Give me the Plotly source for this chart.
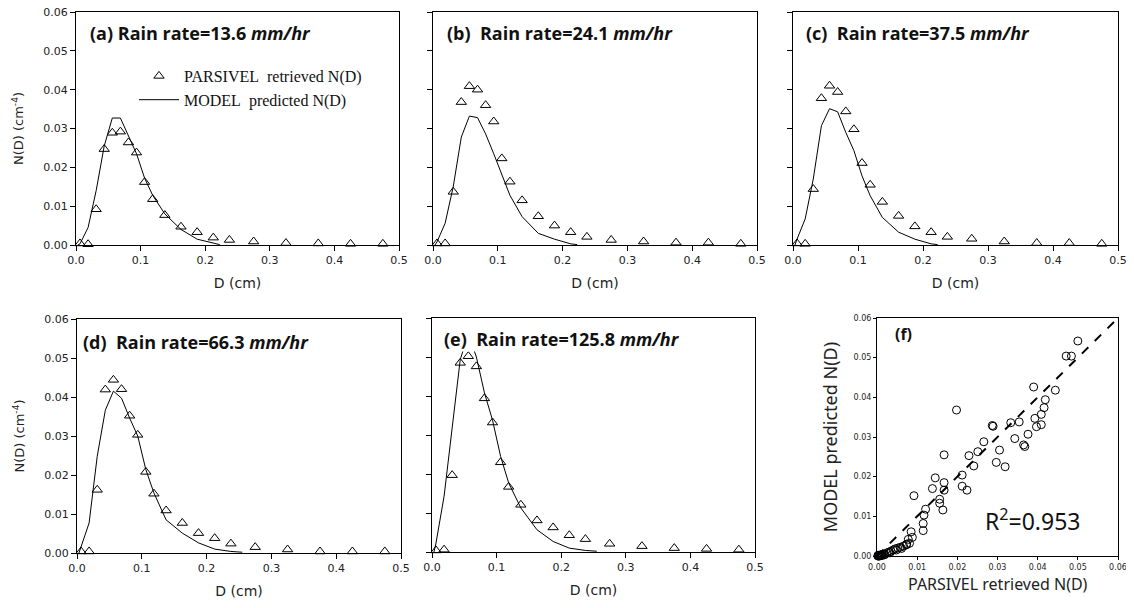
import plotly.graph_objects as go

# ---------------- DATA ----------------
D_BINS = [0.0062, 0.0187, 0.0312, 0.0437, 0.0562, 0.0687, 0.0812, 0.0937, 0.1062, 0.1187,
          0.1375, 0.1625, 0.1875, 0.2125, 0.2375, 0.275, 0.325, 0.375, 0.425, 0.475]

obs_a = [0.0004, 0.0002, 0.0092, 0.0247, 0.0289, 0.0292, 0.0264, 0.0238, 0.0162, 0.0118,
         0.0077, 0.0047, 0.0033, 0.0019, 0.0013, 0.0009, 0.0005, 0.0004, 0.0003, 0.0003]
obs_b = [0.0004, 0.0004, 0.0137, 0.0368, 0.0409, 0.0400, 0.0360, 0.0318, 0.0223, 0.0163,
         0.0115, 0.0074, 0.0050, 0.0033, 0.0021, 0.0013, 0.0009, 0.0006, 0.0006, 0.0003]
obs_c = [0.0004, 0.0003, 0.0144, 0.0378, 0.0410, 0.0394, 0.0344, 0.0298, 0.0211, 0.0155,
         0.0111, 0.0075, 0.0048, 0.0033, 0.0021, 0.0016, 0.0009, 0.0005, 0.0005, 0.0003]
obs_d = [0.0004, 0.0004, 0.0162, 0.0419, 0.0444, 0.0420, 0.0352, 0.0303, 0.0208, 0.0152,
         0.0109, 0.0077, 0.0051, 0.0038, 0.0024, 0.0015, 0.0009, 0.0004, 0.0004, 0.0004]
obs_e = [0.0004, 0.0006, 0.0197, 0.0485, 0.0502, 0.0476, 0.0394, 0.0332, 0.0230, 0.0167,
         0.0121, 0.0081, 0.0063, 0.0043, 0.0033, 0.0021, 0.0015, 0.0010, 0.0008, 0.0006]

MODEL_D_ABC = [0.003, 0.0062, 0.0187, 0.0312, 0.0437, 0.0562, 0.0687, 0.0812, 0.0937, 0.1062,
               0.1187, 0.1375, 0.1625, 0.1875, 0.2125, 0.2225]
MODEL_D_DE = [0.003, 0.0062, 0.0187, 0.0312, 0.0437, 0.0562, 0.0687, 0.0812, 0.0937, 0.1062,
              0.1187, 0.1375, 0.1625, 0.1875, 0.2125, 0.2375, 0.2550]

model_a = [0.0, 0.0003, 0.0045, 0.0140, 0.0255, 0.0327, 0.0327, 0.0282, 0.0235, 0.0172,
           0.0128, 0.0080, 0.0040, 0.0015, 0.0004, 0.0001]
model_b = [0.0, 0.0008, 0.0056, 0.0150, 0.0278, 0.0332, 0.0328, 0.0286, 0.0235, 0.0180,
           0.0128, 0.0073, 0.0030, 0.0015, 0.0003, 0.0001]
model_c = [0.0, 0.0015, 0.0067, 0.0170, 0.0307, 0.0351, 0.0343, 0.0290, 0.0243, 0.0178,
           0.0127, 0.0071, 0.0033, 0.0015, 0.0003, 0.0001]
model_d = [0.0, 0.0017, 0.0077, 0.0248, 0.0366, 0.0415, 0.0397, 0.0346, 0.0300, 0.0214,
           0.0154, 0.0085, 0.0051, 0.0026, 0.0010, 0.0004, 0.0002]
model_e = [0.0, 0.0023, 0.0143, 0.0314, 0.0493, 0.0560, 0.0500, 0.0408, 0.0338, 0.0245,
           0.0177, 0.0113, 0.0057, 0.0027, 0.0010, 0.0004, 0.0002]

rain_rates = ["13.6", "24.1", "37.5", "66.3", "125.8"]
panel_labels = ["(a)", "(b)", "(c)", "(d)", "(e)"]

# panel (f): PARSIVEL retrieved vs MODEL predicted
f_parsivel = [0.0500, 0.0471, 0.0484, 0.0390, 0.0444, 0.0419, 0.0416, 0.0409, 0.0393, 0.0409,
              0.0397, 0.0376, 0.0365, 0.0368, 0.0343, 0.0354, 0.0333, 0.0289, 0.0287, 0.0305,
              0.0297, 0.0319, 0.0266, 0.0251, 0.0229, 0.0241, 0.0212, 0.0212, 0.0224, 0.0198,
              0.0167, 0.0167, 0.0167, 0.0164, 0.0156, 0.0156, 0.0145, 0.0138, 0.0092, 0.0121,
              0.0117, 0.0115, 0.0115, 0.0085, 0.0088, 0.0081, 0.0073, 0.0061, 0.0048, 0.0032,
              0.0020, 0.0011, 0.0007, 0.0002, 0.0003, 0.0005, 0.0008, 0.0010, 0.0013, 0.0016,
              0.0025, 0.0030, 0.0035, 0.0040, 0.0045, 0.0052, 0.0058, 0.0066, 0.0074, 0.0078,
              0.0006, 0.0012, 0.0018, 0.0004, 0.0009]
f_model = [0.0542, 0.0504, 0.0504, 0.0426, 0.0418, 0.0394, 0.0374, 0.0357, 0.0347, 0.0331,
           0.0326, 0.0307, 0.0280, 0.0276, 0.0296, 0.0338, 0.0336, 0.0327, 0.0329, 0.0267,
           0.0236, 0.0225, 0.0288, 0.0263, 0.0253, 0.0227, 0.0204, 0.0176, 0.0166, 0.0368,
           0.0255, 0.0185, 0.0166, 0.0116, 0.0133, 0.0143, 0.0197, 0.0170, 0.0152, 0.0118,
           0.0103, 0.0082, 0.0064, 0.0061, 0.0047, 0.0032, 0.0028, 0.0019, 0.0015, 0.0008,
           0.0004, 0.0002, 0.0001, 0.0000, 0.0002, 0.0001, 0.0002, 0.0003, 0.0004, 0.0005,
           0.0008, 0.0010, 0.0012, 0.0015, 0.0018, 0.0020, 0.0022, 0.0025, 0.0030, 0.0042,
           0.0000, 0.0001, 0.0003, 0.0000, 0.0001]
one_to_one = [0.0, 0.06]
r2_text = "R<sup>2</sup>=0.953"
f_xtitle = "PARSIVEL retrieved N(D)"
f_ytitle = "MODEL predicted N(D)"

# ---------------- LAYOUT HELPERS ----------------
W, H = 1134, 608
OFF = 8  # default page body margin
def fx(p):
    return (p - OFF) / W
def fy(p):
    return 1 - (p - OFF) / H

# pixel boxes: (left, right, top, bottom)
boxes = [(76, 399, 12, 245), (433, 757, 12, 245), (793, 1118, 12, 245),
         (77, 401, 319, 553), (432, 755, 318, 552), (877, 1118, 318, 556)]

obs_list = [obs_a, obs_b, obs_c, obs_d, obs_e]
model_list = [model_a, model_b, model_c, model_d, model_e]
model_x_list = [MODEL_D_ABC, MODEL_D_ABC, MODEL_D_ABC, MODEL_D_DE, MODEL_D_DE]

fig = go.Figure()

for i in range(5):
    xa = "x" if i == 0 else f"x{i+1}"
    ya = "y" if i == 0 else f"y{i+1}"
    fig.add_trace(go.Scatter(
        x=D_BINS, y=obs_list[i], mode="markers", xaxis=xa, yaxis=ya,
        name="PARSIVEL\u00a0 retrieved N(D)", showlegend=(i == 0), cliponaxis=False,
        marker=dict(symbol="triangle-up-open", size=9, color="black", line=dict(width=1, color="black"))))
    fig.add_trace(go.Scatter(
        x=model_x_list[i], y=model_list[i], mode="lines", xaxis=xa, yaxis=ya,
        name="MODEL\u00a0 predicted N(D)", showlegend=(i == 0),
        line=dict(color="black", width=1)))

fig.add_trace(go.Scatter(
    x=one_to_one, y=one_to_one, mode="lines", xaxis="x6", yaxis="y6", showlegend=False,
    line=dict(color="black", width=2, dash="dash")))
fig.add_trace(go.Scatter(
    x=f_parsivel, y=f_model, mode="markers", xaxis="x6", yaxis="y6", showlegend=False,
    cliponaxis=False,
    marker=dict(symbol="circle-open", size=8, color="black", line=dict(width=1, color="black"))))

tick_font = dict(family="DejaVu Sans", size=11, color="#222")
ax_title_font = dict(family="DejaVu Sans", size=13, color="#222")
layout = dict(
    width=W, height=H, margin=dict(l=0, r=0, t=0, b=0, autoexpand=False),
    paper_bgcolor="white", plot_bgcolor="white",
    showlegend=True,
    legend=dict(x=fx(134), y=fy(59), xanchor="left", yanchor="top",
                font=dict(family="Liberation Serif, Times New Roman", size=16, color="#111"),
                bgcolor="rgba(0,0,0,0)", tracegroupgap=0, itemwidth=40),
)

for i, (l, r, t, b) in enumerate(boxes):
    xk = "xaxis" if i == 0 else f"xaxis{i+1}"
    yk = "yaxis" if i == 0 else f"yaxis{i+1}"
    ya_ref = "y" if i == 0 else f"y{i+1}"
    xa_ref = "x" if i == 0 else f"x{i+1}"
    common = dict(showline=True, linecolor="black", linewidth=1, mirror=True,
                  ticks="outside", tickwidth=1, tickcolor="black",
                  showgrid=False, zeroline=False, automargin=False,
                  ticklabeloverflow="allow")
    if i < 5:
        layout[xk] = dict(domain=[fx(l), fx(r)], anchor=ya_ref, range=[0, 0.5], ticklen=5,
                          dtick=0.1, tick0=0, tickformat=".1f", tickfont=tick_font,
                          title=dict(text="D (cm)", font=dict(family="DejaVu Sans", size=14, color="#222"),
                                     standoff=11),
                          **common)
        show_y = i in (0, 3)
        ydict = dict(domain=[fy(b), fy(t)], anchor=xa_ref, range=[0, 0.06], ticklen=5,
                     dtick=0.01, tick0=0, tickformat=".2f", tickfont=tick_font,
                     showticklabels=show_y, **common)
        if show_y:
            ydict["title"] = dict(text="N(D) (cm<sup>-4</sup>)", font=ax_title_font, standoff=16)
        layout[yk] = ydict
    else:
        small = dict(family="DejaVu Sans", size=8, color="#222")
        layout[xk] = dict(domain=[fx(l), fx(r)], anchor=ya_ref, range=[0, 0.06], ticklen=3,
                          dtick=0.01, tick0=0, tickformat=".2f", tickfont=small,
                          **common)
        layout[yk] = dict(domain=[fy(b), fy(t)], anchor=xa_ref, range=[0, 0.06], ticklen=3,
                          dtick=0.01, tick0=0, tickformat=".2f", tickfont=small,
                          title=dict(text=f_ytitle,
                                     font=dict(family="Noto Sans", size=18, color="#222"), standoff=11),
                          **common)

fig.update_layout(**layout)

# panel titles
title_pos = [(89, 33), (446, 33), (805, 33), (82, 342), (443, 339)]
for i in range(5):
    sep = " " if i == 0 else "\u00a0 "
    fig.add_annotation(
        xref="paper", yref="paper", x=fx(title_pos[i][0]), y=fy(title_pos[i][1]),
        xanchor="left", yanchor="middle", showarrow=False,
        text=f"<b>{panel_labels[i]}{sep}Rain rate={rain_rates[i]} <i>mm/hr</i></b>",
        font=dict(family="Open Sans", size=18, color="#111"),
        bgcolor="white", borderpad=0)

# x-axis title of panel (f), placed tight under its tick labels as in the original
fig.add_annotation(xref="x6 domain", yref="paper", x=0.5, y=fy(584), xanchor="center",
                   yanchor="middle", showarrow=False, text=f_xtitle,
                   font=dict(family="Noto Sans", size=16, color="#222"))
fig.add_annotation(xref="paper", yref="paper", x=fx(893), y=fy(334), xanchor="left",
                   yanchor="middle", showarrow=False, text="<b>(f)</b>",
                   font=dict(family="Open Sans", size=16, color="#111"))
fig.add_annotation(xref="x6", yref="y6", x=0.0388, y=0.0092, xanchor="center",
                   yanchor="middle", showarrow=False, text=r2_text,
                   font=dict(family="Noto Sans", size=23, color="#111"))

fig.write_html("out.html")
